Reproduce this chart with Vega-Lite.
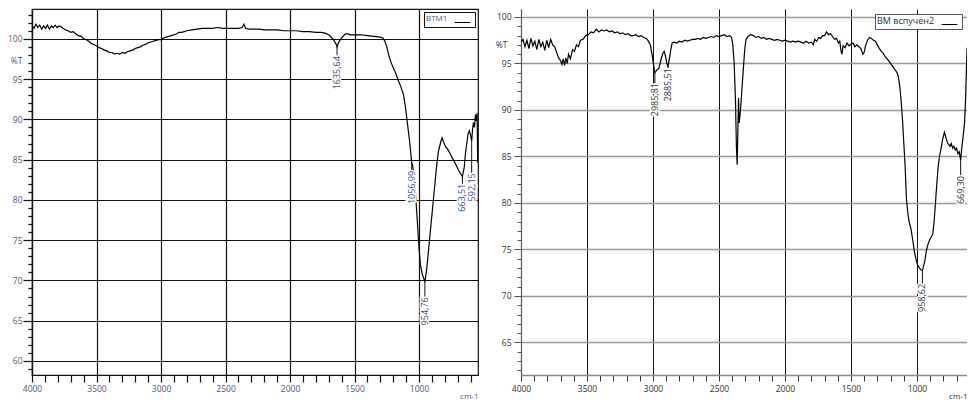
{
  "$schema": "https://vega.github.io/schema/vega-lite/v6.json",
  "background": "white",
  "padding": {"left": 6, "top": 8, "right": 0, "bottom": 0},
  "spacing": 16,
  "config": {"font": "Open Sans", "view": {"stroke": null}},
  "datasets": {
    "left": [
      {"wn": 4000, "T": 101.6}, {"wn": 3985, "T": 101.3}, {"wn": 3970, "T": 101.8}, {"wn": 3955, "T": 101.4}, {"wn": 3940, "T": 101.7}, {"wn": 3925, "T": 101.2}, {"wn": 3910, "T": 101.6}, {"wn": 3895, "T": 101.3}, {"wn": 3880, "T": 101.7}, {"wn": 3865, "T": 101.2}, {"wn": 3850, "T": 101.6}, {"wn": 3835, "T": 101.4}, {"wn": 3820, "T": 101.7}, {"wn": 3805, "T": 101.4}, {"wn": 3790, "T": 101.6}, {"wn": 3775, "T": 101.5},
      {"wn": 3760, "T": 101.3}, {"wn": 3740, "T": 101.1}, {"wn": 3720, "T": 101.0}, {"wn": 3700, "T": 100.8}, {"wn": 3680, "T": 100.9}, {"wn": 3660, "T": 100.6}, {"wn": 3640, "T": 100.4}, {"wn": 3620, "T": 100.3}, {"wn": 3600, "T": 100.0}, {"wn": 3580, "T": 99.9}, {"wn": 3560, "T": 99.7}, {"wn": 3540, "T": 99.4}, {"wn": 3520, "T": 99.3}, {"wn": 3500, "T": 99.1}, {"wn": 3480, "T": 98.9}, {"wn": 3460, "T": 98.8}, {"wn": 3440, "T": 98.6}, {"wn": 3420, "T": 98.5}, {"wn": 3400, "T": 98.3}, {"wn": 3380, "T": 98.3}, {"wn": 3360, "T": 98.1}, {"wn": 3340, "T": 98.2}, {"wn": 3320, "T": 98.1}, {"wn": 3300, "T": 98.3}, {"wn": 3280, "T": 98.2}, {"wn": 3260, "T": 98.4}, {"wn": 3240, "T": 98.5}, {"wn": 3220, "T": 98.6}, {"wn": 3200, "T": 98.8}, {"wn": 3180, "T": 98.9}, {"wn": 3160, "T": 99.0}, {"wn": 3140, "T": 99.2}, {"wn": 3120, "T": 99.3}, {"wn": 3100, "T": 99.5}, {"wn": 3080, "T": 99.6}, {"wn": 3060, "T": 99.7}, {"wn": 3040, "T": 99.8}, {"wn": 3020, "T": 99.9}, {"wn": 3000, "T": 99.9}, {"wn": 2980, "T": 100.1}, {"wn": 2960, "T": 100.2}, {"wn": 2940, "T": 100.3}, {"wn": 2920, "T": 100.4}, {"wn": 2900, "T": 100.5}, {"wn": 2880, "T": 100.6}, {"wn": 2860, "T": 100.8}, {"wn": 2840, "T": 100.8}, {"wn": 2820, "T": 100.9}, {"wn": 2800, "T": 101.0}, {"wn": 2760, "T": 101.1}, {"wn": 2720, "T": 101.2}, {"wn": 2680, "T": 101.3}, {"wn": 2640, "T": 101.3}, {"wn": 2600, "T": 101.3}, {"wn": 2560, "T": 101.4}, {"wn": 2520, "T": 101.3}, {"wn": 2480, "T": 101.3}, {"wn": 2440, "T": 101.3}, {"wn": 2400, "T": 101.3}, {"wn": 2370, "T": 101.4}, {"wn": 2357, "T": 101.8}, {"wn": 2345, "T": 101.3}, {"wn": 2320, "T": 101.2}, {"wn": 2280, "T": 101.2}, {"wn": 2240, "T": 101.2}, {"wn": 2200, "T": 101.1}, {"wn": 2150, "T": 101.1}, {"wn": 2100, "T": 101.1}, {"wn": 2050, "T": 101.0}, {"wn": 2000, "T": 101.0}, {"wn": 1950, "T": 101.0}, {"wn": 1900, "T": 100.9}, {"wn": 1850, "T": 100.9}, {"wn": 1800, "T": 100.8}, {"wn": 1760, "T": 100.8}, {"wn": 1730, "T": 100.7}, {"wn": 1700, "T": 100.5}, {"wn": 1680, "T": 100.2}, {"wn": 1660, "T": 99.8}, {"wn": 1645, "T": 99.4}, {"wn": 1635.64, "T": 99.0}, {"wn": 1625, "T": 99.5}, {"wn": 1610, "T": 99.9}, {"wn": 1590, "T": 100.3}, {"wn": 1570, "T": 100.6}, {"wn": 1550, "T": 100.6}, {"wn": 1530, "T": 100.5}, {"wn": 1500, "T": 100.5}, {"wn": 1450, "T": 100.5}, {"wn": 1400, "T": 100.4}, {"wn": 1350, "T": 100.3}, {"wn": 1300, "T": 100.2}, {"wn": 1280, "T": 100.1}, {"wn": 1265, "T": 99.7}, {"wn": 1250, "T": 99.0}, {"wn": 1235, "T": 98.0}, {"wn": 1220, "T": 97.2}, {"wn": 1200, "T": 96.4}, {"wn": 1180, "T": 95.7}, {"wn": 1160, "T": 94.8}, {"wn": 1140, "T": 94.0}, {"wn": 1120, "T": 93.0}, {"wn": 1105, "T": 91.5}, {"wn": 1090, "T": 89.5}, {"wn": 1075, "T": 87.5}, {"wn": 1065, "T": 86.0}, {"wn": 1056.99, "T": 84.6}, {"wn": 1050, "T": 84.3}, {"wn": 1040, "T": 83.0}, {"wn": 1030, "T": 81.5}, {"wn": 1020, "T": 79.0}, {"wn": 1010, "T": 76.5}, {"wn": 1000, "T": 74.0}, {"wn": 990, "T": 72.0}, {"wn": 975, "T": 70.8}, {"wn": 954.76, "T": 69.8}, {"wn": 940, "T": 71.5}, {"wn": 925, "T": 74.0}, {"wn": 910, "T": 76.5}, {"wn": 895, "T": 79.0}, {"wn": 880, "T": 81.5}, {"wn": 865, "T": 84.0}, {"wn": 850, "T": 86.0}, {"wn": 835, "T": 87.0}, {"wn": 822, "T": 87.7}, {"wn": 810, "T": 87.2}, {"wn": 795, "T": 86.6}, {"wn": 775, "T": 86.2}, {"wn": 755, "T": 85.6}, {"wn": 735, "T": 85.0}, {"wn": 715, "T": 84.4}, {"wn": 695, "T": 83.7}, {"wn": 680, "T": 83.3}, {"wn": 663.51, "T": 82.9}, {"wn": 650, "T": 84.0}, {"wn": 640, "T": 85.8}, {"wn": 630, "T": 87.0}, {"wn": 620, "T": 88.2}, {"wn": 610, "T": 88.6}, {"wn": 600, "T": 88.0}, {"wn": 592.15, "T": 87.3}, {"wn": 585, "T": 88.8}, {"wn": 578, "T": 89.6}, {"wn": 570, "T": 89.0}, {"wn": 563, "T": 90.6}, {"wn": 556, "T": 89.8}, {"wn": 550, "T": 90.8}, {"wn": 545, "T": 84.6}
    ],
    "right": [
      {"wn": 4000, "T": 97.3}, {"wn": 3985, "T": 97.6}, {"wn": 3970, "T": 96.8}, {"wn": 3955, "T": 97.5}, {"wn": 3940, "T": 96.6}, {"wn": 3925, "T": 97.7}, {"wn": 3910, "T": 96.9}, {"wn": 3895, "T": 97.4}, {"wn": 3880, "T": 96.5}, {"wn": 3865, "T": 97.6}, {"wn": 3850, "T": 96.8}, {"wn": 3835, "T": 97.3}, {"wn": 3820, "T": 96.4}, {"wn": 3805, "T": 97.5}, {"wn": 3790, "T": 96.7}, {"wn": 3775, "T": 97.6}, {"wn": 3760, "T": 97.0}, {"wn": 3745, "T": 96.8}, {"wn": 3730, "T": 96.2}, {"wn": 3715, "T": 95.6}, {"wn": 3700, "T": 95.3}, {"wn": 3690, "T": 94.9}, {"wn": 3680, "T": 95.5}, {"wn": 3670, "T": 94.8}, {"wn": 3660, "T": 95.6}, {"wn": 3650, "T": 95.0}, {"wn": 3640, "T": 96.0}, {"wn": 3625, "T": 95.5}, {"wn": 3610, "T": 96.5}, {"wn": 3595, "T": 96.3}, {"wn": 3580, "T": 97.0}, {"wn": 3565, "T": 96.8}, {"wn": 3550, "T": 97.5}, {"wn": 3530, "T": 97.6}, {"wn": 3510, "T": 98.0}, {"wn": 3490, "T": 98.1}, {"wn": 3470, "T": 98.4}, {"wn": 3450, "T": 98.3}, {"wn": 3430, "T": 98.7}, {"wn": 3410, "T": 98.4}, {"wn": 3390, "T": 98.6}, {"wn": 3370, "T": 98.5}, {"wn": 3350, "T": 98.6}, {"wn": 3330, "T": 98.4}, {"wn": 3310, "T": 98.5}, {"wn": 3290, "T": 98.3}, {"wn": 3270, "T": 98.4}, {"wn": 3250, "T": 98.2}, {"wn": 3230, "T": 98.3}, {"wn": 3210, "T": 98.1}, {"wn": 3190, "T": 98.2}, {"wn": 3170, "T": 98.0}, {"wn": 3150, "T": 98.0}, {"wn": 3130, "T": 98.1}, {"wn": 3110, "T": 97.9}, {"wn": 3090, "T": 98.0}, {"wn": 3070, "T": 97.8}, {"wn": 3050, "T": 97.7}, {"wn": 3035, "T": 97.4}, {"wn": 3020, "T": 97.0}, {"wn": 3005, "T": 95.8}, {"wn": 2995, "T": 94.8}, {"wn": 2985.81, "T": 94.0}, {"wn": 2970, "T": 94.3}, {"wn": 2955, "T": 94.5}, {"wn": 2940, "T": 95.4}, {"wn": 2925, "T": 96.1}, {"wn": 2915, "T": 96.3}, {"wn": 2905, "T": 95.8}, {"wn": 2895, "T": 95.0}, {"wn": 2885.51, "T": 94.7}, {"wn": 2875, "T": 95.6}, {"wn": 2865, "T": 96.5}, {"wn": 2855, "T": 97.2}, {"wn": 2840, "T": 97.3}, {"wn": 2820, "T": 97.2}, {"wn": 2800, "T": 97.4}, {"wn": 2780, "T": 97.3}, {"wn": 2760, "T": 97.5}, {"wn": 2740, "T": 97.4}, {"wn": 2720, "T": 97.5}, {"wn": 2700, "T": 97.6}, {"wn": 2680, "T": 97.6}, {"wn": 2660, "T": 97.7}, {"wn": 2640, "T": 97.6}, {"wn": 2620, "T": 97.8}, {"wn": 2600, "T": 97.7}, {"wn": 2580, "T": 97.8}, {"wn": 2560, "T": 97.9}, {"wn": 2540, "T": 97.8}, {"wn": 2520, "T": 98.0}, {"wn": 2500, "T": 97.9}, {"wn": 2480, "T": 98.0}, {"wn": 2460, "T": 98.1}, {"wn": 2440, "T": 97.9}, {"wn": 2420, "T": 98.0}, {"wn": 2405, "T": 97.8}, {"wn": 2395, "T": 97.0}, {"wn": 2385, "T": 95.0}, {"wn": 2375, "T": 91.0}, {"wn": 2368, "T": 86.0}, {"wn": 2362, "T": 84.1}, {"wn": 2356, "T": 88.5}, {"wn": 2352, "T": 91.3}, {"wn": 2347, "T": 88.6}, {"wn": 2340, "T": 89.5}, {"wn": 2332, "T": 91.0}, {"wn": 2325, "T": 92.5}, {"wn": 2315, "T": 94.5}, {"wn": 2305, "T": 96.5}, {"wn": 2295, "T": 97.6}, {"wn": 2280, "T": 97.9}, {"wn": 2260, "T": 98.1}, {"wn": 2240, "T": 98.0}, {"wn": 2220, "T": 97.8}, {"wn": 2200, "T": 97.9}, {"wn": 2180, "T": 97.7}, {"wn": 2160, "T": 97.8}, {"wn": 2140, "T": 97.6}, {"wn": 2120, "T": 97.7}, {"wn": 2100, "T": 97.6}, {"wn": 2080, "T": 97.5}, {"wn": 2060, "T": 97.6}, {"wn": 2040, "T": 97.5}, {"wn": 2020, "T": 97.4}, {"wn": 2000, "T": 97.5}, {"wn": 1980, "T": 97.4}, {"wn": 1960, "T": 97.3}, {"wn": 1940, "T": 97.4}, {"wn": 1920, "T": 97.3}, {"wn": 1900, "T": 97.4}, {"wn": 1880, "T": 97.3}, {"wn": 1860, "T": 97.2}, {"wn": 1840, "T": 97.4}, {"wn": 1820, "T": 97.2}, {"wn": 1800, "T": 97.3}, {"wn": 1785, "T": 97.0}, {"wn": 1775, "T": 97.6}, {"wn": 1760, "T": 97.4}, {"wn": 1745, "T": 97.8}, {"wn": 1730, "T": 97.7}, {"wn": 1715, "T": 98.0}, {"wn": 1700, "T": 98.0}, {"wn": 1685, "T": 98.4}, {"wn": 1670, "T": 98.1}, {"wn": 1655, "T": 98.2}, {"wn": 1640, "T": 97.9}, {"wn": 1625, "T": 97.6}, {"wn": 1610, "T": 97.7}, {"wn": 1595, "T": 97.2}, {"wn": 1585, "T": 97.4}, {"wn": 1575, "T": 96.3}, {"wn": 1568, "T": 96.0}, {"wn": 1560, "T": 96.9}, {"wn": 1545, "T": 96.7}, {"wn": 1530, "T": 97.2}, {"wn": 1515, "T": 96.9}, {"wn": 1500, "T": 97.1}, {"wn": 1485, "T": 97.2}, {"wn": 1470, "T": 96.8}, {"wn": 1455, "T": 97.0}, {"wn": 1440, "T": 96.8}, {"wn": 1425, "T": 96.6}, {"wn": 1410, "T": 96.0}, {"wn": 1400, "T": 96.2}, {"wn": 1390, "T": 96.9}, {"wn": 1375, "T": 97.5}, {"wn": 1360, "T": 97.8}, {"wn": 1345, "T": 97.7}, {"wn": 1330, "T": 97.5}, {"wn": 1315, "T": 97.4}, {"wn": 1300, "T": 97.0}, {"wn": 1285, "T": 96.6}, {"wn": 1270, "T": 96.3}, {"wn": 1255, "T": 96.1}, {"wn": 1240, "T": 95.7}, {"wn": 1225, "T": 95.5}, {"wn": 1210, "T": 95.2}, {"wn": 1195, "T": 94.9}, {"wn": 1180, "T": 94.6}, {"wn": 1165, "T": 94.3}, {"wn": 1150, "T": 94.0}, {"wn": 1140, "T": 93.5}, {"wn": 1130, "T": 92.5}, {"wn": 1120, "T": 91.0}, {"wn": 1110, "T": 89.0}, {"wn": 1100, "T": 86.5}, {"wn": 1090, "T": 84.0}, {"wn": 1080, "T": 80.5}, {"wn": 1070, "T": 79.0}, {"wn": 1060, "T": 78.0}, {"wn": 1045, "T": 77.2}, {"wn": 1030, "T": 75.8}, {"wn": 1019, "T": 74.7}, {"wn": 1005, "T": 73.8}, {"wn": 994, "T": 73.3}, {"wn": 980, "T": 73.0}, {"wn": 970, "T": 72.8}, {"wn": 958.62, "T": 72.7}, {"wn": 950, "T": 73.2}, {"wn": 940, "T": 73.8}, {"wn": 930, "T": 74.8}, {"wn": 918, "T": 75.5}, {"wn": 905, "T": 76.0}, {"wn": 890, "T": 76.4}, {"wn": 880, "T": 76.7}, {"wn": 870, "T": 78.0}, {"wn": 860, "T": 80.0}, {"wn": 850, "T": 82.0}, {"wn": 840, "T": 83.8}, {"wn": 830, "T": 85.0}, {"wn": 817, "T": 85.9}, {"wn": 805, "T": 86.9}, {"wn": 792, "T": 87.6}, {"wn": 780, "T": 87.0}, {"wn": 770, "T": 86.5}, {"wn": 760, "T": 86.3}, {"wn": 750, "T": 86.1}, {"wn": 740, "T": 86.4}, {"wn": 730, "T": 85.9}, {"wn": 720, "T": 86.1}, {"wn": 710, "T": 85.7}, {"wn": 700, "T": 85.9}, {"wn": 690, "T": 85.3}, {"wn": 680, "T": 85.5}, {"wn": 669.3, "T": 84.6}, {"wn": 660, "T": 86.0}, {"wn": 650, "T": 87.2}, {"wn": 640, "T": 88.5}, {"wn": 632, "T": 91.0}, {"wn": 626, "T": 94.0}, {"wn": 621, "T": 96.7}
    ],
    "leftPeaks": [
      {"wn": 1635.64, "peak": 99.0, "top": 97.85, "label": "1635,64"},
      {"wn": 1056.99, "peak": 84.6, "top": 83.6, "label": "1056,99"},
      {"wn": 954.76, "peak": 69.8, "top": 67.9, "label": "954,76"},
      {"wn": 663.51, "peak": 82.9, "top": 82.0, "label": "663,51"},
      {"wn": 592.15, "peak": 87.3, "top": 83.3, "label": "592,15"}
    ],
    "rightPeaks": [
      {"wn": 2985.81, "peak": 94.0, "top": 92.9, "label": "2985,81"},
      {"wn": 2885.51, "peak": 94.7, "top": 94.5, "label": "2885,51"},
      {"wn": 958.62, "peak": 72.7, "top": 71.3, "label": "958,62"},
      {"wn": 669.3, "peak": 84.6, "top": 82.9, "label": "669,30"}
    ]
  },
  "hconcat": [
    {
      "width": 446,
      "height": 366,
      "view": {"stroke": "#111", "strokeWidth": 1.2},
      "layer": [
        {
          "data": {"name": "left"},
          "mark": {"type": "line", "color": "black", "strokeWidth": 1.2, "clip": true},
          "encoding": {
            "x": {
              "field": "wn", "type": "quantitative",
              "scale": {"domain": [4000, 543], "nice": false, "zero": false},
              "axis": {
                "values": [4000, 3900, 3800, 3700, 3600, 3500, 3400, 3300, 3200, 3100, 3000, 2900, 2800, 2700, 2600, 2500, 2400, 2300, 2200, 2100, 2000, 1900, 1800, 1700, 1600, 1500, 1400, 1300, 1200, 1100, 1000, 900, 800, 700, 600],
                "tickCount": 500,
                "format": "d",
                "labelExpr": "datum.value % 500 === 0 ? datum.label : ''",
                "labelOverlap": false, "labelFlush": false,
                "grid": true, "gridColor": "#111", "gridWidth": 1.2,
                "gridOpacity": {"condition": {"test": "datum.value % 500 === 0", "value": 1}, "value": 0},
                "tickSize": 7, "tickColor": "#111", "tickWidth": 1.2,
                "domainColor": "#111", "domainWidth": 1.2,
                "labelFontSize": 8.5, "labelColor": "#4a5a85", "labelPadding": 2,
                "title": "cm-1", "titleAnchor": "end", "titleAlign": "right", "titleFontSize": 8,
                "titleFontWeight": "normal", "titleColor": "#4a5a85", "titlePadding": 0
              }
            },
            "y": {
              "field": "T", "type": "quantitative",
              "scale": {"domain": [58.26, 103.7], "nice": false, "zero": false},
              "axis": {
                "values": [59, 60, 61, 62, 63, 64, 65, 66, 67, 68, 69, 70, 71, 72, 73, 74, 75, 76, 77, 78, 79, 80, 81, 82, 83, 84, 85, 86, 87, 88, 89, 90, 91, 92, 93, 94, 95, 96, 97, 98, 99, 100, 101, 102, 103],
                "tickCount": 500,
                "format": "d",
                "labelExpr": "datum.value % 5 === 0 ? datum.label : ''",
                "labelOverlap": false, "labelFlush": false,
                "grid": true, "gridColor": "#111", "gridWidth": 1.2,
                "gridOpacity": {"condition": {"test": "datum.value % 5 === 0", "value": 1}, "value": 0},
                "tickSize": {"condition": {"test": "datum.value % 5 === 0", "value": 9}, "value": 4},
                "tickColor": "#111", "tickWidth": 1.2,
                "domainColor": "#111", "domainWidth": 1.2,
                "labelFontSize": 8.5, "labelColor": "#4a5a85", "labelPadding": 1,
                "title": "%T", "titleAngle": 0, "titleX": -16, "titleY": 51, "titleAlign": "center",
                "titleBaseline": "middle", "titleFontSize": 8.5, "titleFontWeight": "normal", "titleColor": "#4a5a85"
              }
            },
            "color": {
              "datum": "BTM1", "type": "nominal",
              "scale": {"range": ["black"]},
              "legend": {
                "title": "BTM1", "titleOrient": "left", "labelExpr": "''",
                "orient": "top-right", "offset": 3,
                "symbolType": "stroke", "symbolSize": 250, "symbolStrokeWidth": 1,
                "strokeColor": "#111", "fillColor": "white", "padding": 2,
                "titleFontSize": 8, "titleFontWeight": "normal", "titleColor": "#4a5a85",
                "titlePadding": 6, "labelFontSize": 1, "labelOffset": 2
              }
            }
          }
        },
        {
          "data": {"name": "leftPeaks"},
          "mark": {"type": "rule", "color": "#111", "strokeWidth": 1},
          "encoding": {
            "x": {"field": "wn", "type": "quantitative"},
            "y": {"field": "peak", "type": "quantitative"},
            "y2": {"field": "top"}
          }
        },
        {
          "data": {"name": "leftPeaks"},
          "mark": {"type": "text", "angle": 270, "align": "right", "baseline": "middle", "fontSize": 9, "stroke": "white", "strokeWidth": 3, "fill": "white"},
          "encoding": {
            "x": {"field": "wn", "type": "quantitative"},
            "y": {"field": "top", "type": "quantitative"},
            "text": {"field": "label"}
          }
        },
        {
          "data": {"name": "leftPeaks"},
          "mark": {"type": "text", "angle": 270, "align": "right", "baseline": "middle", "fontSize": 9, "color": "#34508a"},
          "encoding": {
            "x": {"field": "wn", "type": "quantitative"},
            "y": {"field": "top", "type": "quantitative"},
            "text": {"field": "label"}
          }
        }
      ]
    },
    {
      "width": 446,
      "height": 366,
      "layer": [
        {
          "data": {"name": "right"},
          "mark": {"type": "line", "color": "black", "strokeWidth": 1.2, "clip": true},
          "encoding": {
            "x": {
              "field": "wn", "type": "quantitative",
              "scale": {"domain": [4000, 621], "nice": false, "zero": false},
              "axis": {
                "values": [4000, 3900, 3800, 3700, 3600, 3500, 3400, 3300, 3200, 3100, 3000, 2900, 2800, 2700, 2600, 2500, 2400, 2300, 2200, 2100, 2000, 1900, 1800, 1700, 1600, 1500, 1400, 1300, 1200, 1100, 1000, 900, 800, 700],
                "tickCount": 500,
                "format": "d",
                "labelExpr": "datum.value % 500 === 0 ? datum.label : ''",
                "labelOverlap": false, "labelFlush": false,
                "grid": true, "gridColor": "#111", "gridWidth": 1,
                "gridOpacity": {"condition": {"test": "datum.value % 500 === 0 && datum.value < 4000", "value": 1}, "value": 0},
                "tickSize": 6, "tickColor": "#333", "tickWidth": 1,
                "domainColor": "#888", "domainWidth": 1.5,
                "labelFontSize": 8.5, "labelColor": "#333", "labelPadding": 3,
                "title": "cm-1", "titleAnchor": "end", "titleAlign": "right", "titleFontSize": 8,
                "titleFontWeight": "normal", "titleColor": "#333", "titlePadding": 0
              }
            },
            "y": {
              "field": "T", "type": "quantitative",
              "scale": {"domain": [61.5, 100.86], "nice": false, "zero": false},
              "axis": {
                "values": [62, 63, 64, 65, 66, 67, 68, 69, 70, 71, 72, 73, 74, 75, 76, 77, 78, 79, 80, 81, 82, 83, 84, 85, 86, 87, 88, 89, 90, 91, 92, 93, 94, 95, 96, 97, 98, 99, 100],
                "tickCount": 500,
                "format": "d",
                "labelExpr": "datum.value % 5 === 0 ? datum.label : ''",
                "labelOverlap": false, "labelFlush": false,
                "grid": true, "gridColor": "#999", "gridWidth": 1.5,
                "gridOpacity": {"condition": {"test": "datum.value % 5 === 0", "value": 1}, "value": 0},
                "tickSize": {"condition": {"test": "datum.value % 5 === 0", "value": 7}, "value": 4},
                "tickColor": "#555", "tickWidth": 1,
                "domainColor": "#555", "domainWidth": 1.2,
                "labelFontSize": 8.5, "labelColor": "#333", "labelPadding": 3,
                "title": "%T", "titleAngle": 0, "titleX": -20, "titleY": 35, "titleAlign": "center",
                "titleBaseline": "middle", "titleFontSize": 8.5, "titleFontWeight": "normal", "titleColor": "#333"
              }
            },
            "color": {
              "datum": "ВМ вспучен2", "type": "nominal",
              "scale": {"range": ["black"]},
              "legend": {
                "title": "ВМ вспучен2", "titleOrient": "left", "labelExpr": "''",
                "orient": "top-right", "offset": 5,
                "symbolType": "stroke", "symbolSize": 250, "symbolStrokeWidth": 1,
                "strokeColor": "#555", "fillColor": "white", "padding": 2,
                "titleFontSize": 9, "titleFontWeight": "normal", "titleColor": "#333",
                "titlePadding": 6, "labelFontSize": 1, "labelOffset": 2
              }
            }
          }
        },
        {
          "data": {"name": "rightPeaks"},
          "mark": {"type": "rule", "color": "#111", "strokeWidth": 1},
          "encoding": {
            "x": {"field": "wn", "type": "quantitative"},
            "y": {"field": "peak", "type": "quantitative"},
            "y2": {"field": "top"}
          }
        },
        {
          "data": {"name": "rightPeaks"},
          "mark": {"type": "text", "angle": 270, "align": "right", "baseline": "middle", "fontSize": 9, "stroke": "white", "strokeWidth": 3, "fill": "white"},
          "encoding": {
            "x": {"field": "wn", "type": "quantitative"},
            "y": {"field": "top", "type": "quantitative"},
            "text": {"field": "label"}
          }
        },
        {
          "data": {"name": "rightPeaks"},
          "mark": {"type": "text", "angle": 270, "align": "right", "baseline": "middle", "fontSize": 9, "color": "#333"},
          "encoding": {
            "x": {"field": "wn", "type": "quantitative"},
            "y": {"field": "top", "type": "quantitative"},
            "text": {"field": "label"}
          }
        }
      ]
    }
  ],
  "resolve": {"scale": {"color": "independent"}, "legend": {"color": "independent"}}
}
